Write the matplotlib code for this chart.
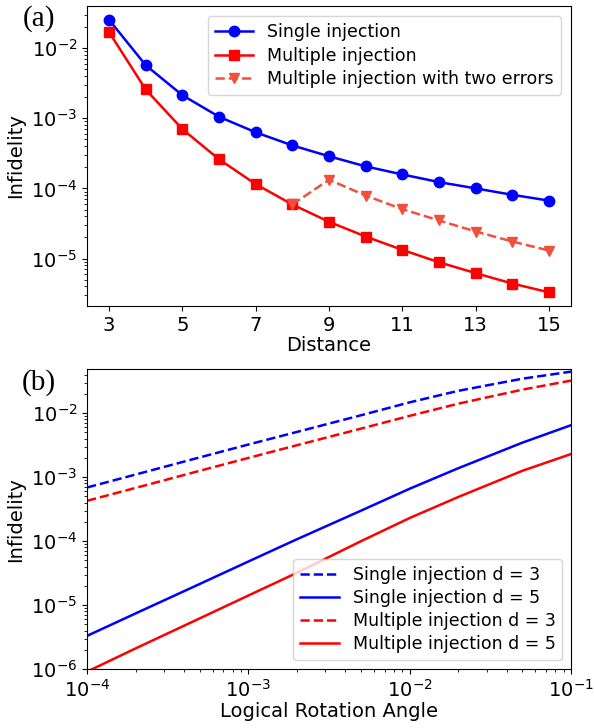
import matplotlib.pyplot as plt
import numpy as np

# (a) infidelity vs code distance
distance = [3, 4, 5, 6, 7, 8, 9, 10, 11, 12, 13, 14, 15]
single_inj = [2.54e-2, 5.7e-3, 2.13e-3, 1.05e-3, 6.3e-4, 4.1e-4, 2.87e-4,
              2.06e-4, 1.58e-4, 1.23e-4, 1.0e-4, 8.1e-5, 6.7e-5]
multi_inj = [1.69e-2, 2.57e-3, 7.0e-4, 2.6e-4, 1.15e-4, 5.9e-5, 3.34e-5,
             2.06e-5, 1.33e-5, 8.85e-6, 6.2e-6, 4.4e-6, 3.3e-6]
two_err_dist = [8, 9, 10, 11, 12, 13, 14, 15]
multi_two_err = [5.9e-5, 1.33e-4, 7.9e-5, 5.06e-5, 3.49e-5, 2.43e-5, 1.75e-5, 1.3e-5]

# (b) infidelity vs logical rotation angle
angle = [1e-4, 2e-4, 5e-4, 1e-3, 2e-3, 5e-3, 1e-2, 2e-2, 5e-2, 1e-1]
single_d3 = [6.9e-4, 1.10e-3, 2.04e-3, 3.24e-3, 5.1e-3, 9.3e-3, 1.48e-2, 2.24e-2, 3.47e-2, 4.47e-2]
single_d5 = [3.3e-6, 7.4e-6, 2.14e-5, 4.8e-5, 1.07e-4, 3.0e-4, 6.6e-4, 1.38e-3, 3.47e-3, 6.5e-3]
multi_d3 = [4.27e-4, 6.8e-4, 1.26e-3, 2.0e-3, 3.16e-3, 5.75e-3, 9.1e-3, 1.41e-2, 2.34e-2, 3.24e-2]
multi_d5 = [9.1e-7, 2.1e-6, 6.2e-6, 1.41e-5, 3.2e-5, 1.0e-4, 2.3e-4, 4.9e-4, 1.26e-3, 2.3e-3]

fs = 14
fig = plt.figure(figsize=(5.94, 7.28), dpi=100)
ax1 = fig.add_axes([0.1465, 0.5797, 0.8148, 0.412])
ax2 = fig.add_axes([0.1465, 0.081, 0.8148, 0.412])

ax1.plot(distance, single_inj, '-o', color='blue', lw=1.8, ms=7.5, label='Single injection')
ax1.plot(distance, multi_inj, '-s', color='red', lw=1.8, ms=7.5, label='Multiple injection')
ax1.plot(two_err_dist, multi_two_err, '--v', color='#F0503C', lw=1.8, ms=7.5,
         label='Multiple injection with two errors')
ax1.set_yscale('log')
ax1.set_xticks([3, 5, 7, 9, 11, 13, 15])
ax1.set_xlabel('Distance', fontsize=fs, labelpad=1)
ax1.set_ylabel('Infidelity', fontsize=fs)
ax1.tick_params(labelsize=fs)
ax1.legend(loc='upper right', fontsize=12.5, handlelength=2.2, borderpad=0.4,
           labelspacing=0.3, borderaxespad=0.6)
ax1.text(-0.1, 0.96, '(a)', transform=ax1.transAxes, fontsize=21,
         family='Liberation Serif', ha='center', va='center')

ax2.plot(angle, single_d3, '--', color='blue', lw=1.8, label='Single injection d = 3')
ax2.plot(angle, single_d5, '-', color='blue', lw=1.8, label='Single injection d = 5')
ax2.plot(angle, multi_d3, '--', color='red', lw=1.8, label='Multiple injection d = 3')
ax2.plot(angle, multi_d5, '-', color='red', lw=1.8, label='Multiple injection d = 5')
ax2.set_xscale('log')
ax2.set_yscale('log')
ax2.set_xlim(1e-4, 1e-1)
ax2.set_ylim(1e-6, 4.9e-2)
ax2.set_xlabel('Logical Rotation Angle', fontsize=fs, labelpad=1)
ax2.set_ylabel('Infidelity', fontsize=fs)
ax2.tick_params(labelsize=fs)
ax2.legend(loc='lower right', fontsize=12.5, handlelength=2.2, borderpad=0.4,
           labelspacing=0.3)
ax2.text(-0.1, 0.955, '(b)', transform=ax2.transAxes, fontsize=21,
         family='Liberation Serif', ha='center', va='center')

fig.savefig('out.png', dpi=100)
